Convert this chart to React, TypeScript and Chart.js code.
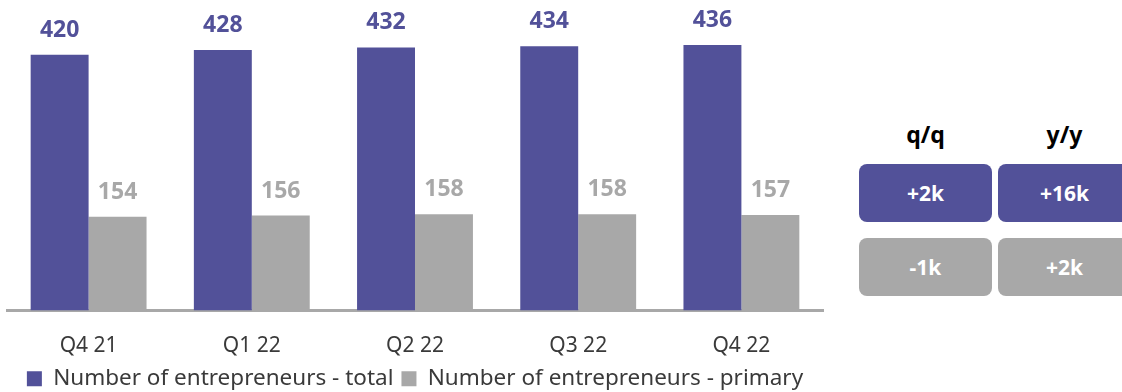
import React, { useEffect, useRef } from "react";
import { Chart, registerables } from "chart.js";

Chart.register(...registerables);

const categories = ["Q4 21", "Q1 22", "Q2 22", "Q3 22", "Q4 22"];
const totalValues = [420, 428, 432, 434, 436];
const primaryValues = [154, 156, 158, 158, 157];
const seriesNames = ["Number of entrepreneurs - total", "Number of entrepreneurs - primary"];
const changeHeaders = ["q/q", "y/y"];
const totalChanges = ["+2k", "+16k"];
const primaryChanges = ["-1k", "+2k"];

const PURPLE = "#525199";
const GRAY = "#a8a8a8";
const TEXT = "#3a3a3a";
const FONT = "'Noto Sans', sans-serif";

const valueLabels = {
  id: "valueLabels",
  afterDatasetsDraw(chart: any) {
    const ctx = chart.ctx;
    ctx.save();
    chart.data.datasets.forEach((ds: any, i: number) => {
      const meta = chart.getDatasetMeta(i);
      ctx.fillStyle = ds.backgroundColor;
      ctx.font = `bold 23px ${FONT}`;
      ctx.textAlign = "center";
      ctx.textBaseline = "alphabetic";
      meta.data.forEach((el: any, j: number) => {
        ctx.fillText(String(ds.data[j]), el.x, el.y - 18);
      });
    });
    ctx.restore();
  },
};

export default function App() {
  const ref = useRef<HTMLCanvasElement>(null);
  useEffect(() => {
    if (!ref.current) return;
    const chart = new Chart(ref.current, {
      type: "bar",
      data: {
        labels: categories,
        datasets: [
          { label: seriesNames[0], data: totalValues, backgroundColor: PURPLE },
          { label: seriesNames[1], data: primaryValues, backgroundColor: GRAY },
        ],
      },
      options: {
        animation: false,
        responsive: false,
        maintainAspectRatio: false,
        layout: { padding: { left: 7, right: 7, top: 0, bottom: 0 } },
        datasets: { bar: { categoryPercentage: 0.71, barPercentage: 1 } },
        scales: {
          y: { display: false, min: 0, max: 510 },
          x: {
            grid: { display: false, drawTicks: false },
            border: { display: true, color: GRAY, width: 3 },
            ticks: { color: TEXT, font: { family: FONT, size: 21 }, padding: 23 },
            afterFit: (s: any) => {
              s.height = 49;
            },
          },
        },
        plugins: {
          tooltip: { enabled: false },
          legend: {
            position: "bottom",
            labels: {
              color: TEXT,
              font: { family: FONT, size: 22.5 },
              boxWidth: 15,
              boxHeight: 15,
              padding: 8,
            },
          },
        },
      },
      plugins: [valueLabels],
    });
    return () => chart.destroy();
  }, []);

  const box = (bg: string): React.CSSProperties => ({
    position: "absolute",
    width: 133,
    height: 58,
    borderRadius: 8,
    background: bg,
    color: "#fff",
    font: `bold 21px ${FONT}`,
    display: "flex",
    alignItems: "center",
    justifyContent: "center",
  });

  return (
    <div style={{ position: "fixed", left: 0, top: 0, width: 1122, height: 392, background: "#fff", overflow: "hidden" }}>
      <canvas ref={ref} width={830} height={400} style={{ position: "absolute", left: 0, top: 0, width: 830, height: 400 }} />
      {changeHeaders.map((h, i) => (
        <div key={h} style={{ position: "absolute", left: 859 + i * 139, top: 118, width: 133, textAlign: "center", font: `bold 23px ${FONT}`, color: "#000" }}>{h}</div>
      ))}
      {totalChanges.map((t, i) => (
        <div key={"t" + i} style={{ ...box(PURPLE), left: 859 + i * 139, top: 164 }}>{t}</div>
      ))}
      {primaryChanges.map((t, i) => (
        <div key={"p" + i} style={{ ...box(GRAY), left: 859 + i * 139, top: 238 }}>{t}</div>
      ))}
    </div>
  );
}
